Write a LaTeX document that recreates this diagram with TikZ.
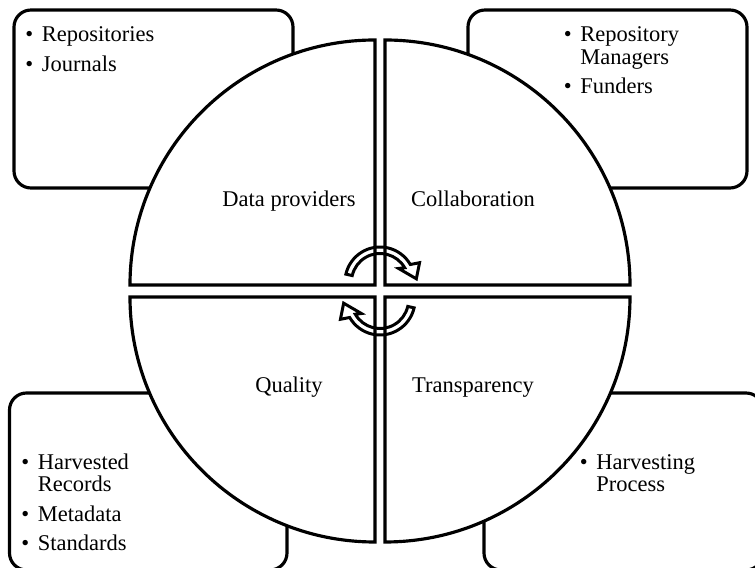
\documentclass[tikz,border=0pt]{standalone}
\usepackage{fontspec}
\setmainfont{Liberation Serif}
\usetikzlibrary{
    positioning,   % Relative positioning
    calc           % Coordinate calculations
}
\tikzset{sector/.style={
    draw, fill=white, line width=1.8pt, line join=miter
}}
\tikzset{sidebox/.style={
    draw, fill=white, line width=1.8pt, rounded corners=0.34cm
}}
\tikzset{quadlabel/.style={
    font=\fontsize{12.8}{12.8}\selectfont, inner sep=0pt, anchor=base
}}
\tikzset{bulletlist/.style={
    font=\fontsize{12.8}{12.8}\selectfont, inner sep=0pt, anchor=base west
}}
\tikzset{circarrow/.pic={
    \draw[line width=1.7pt, line join=miter]
        (167:35) arc[start angle=167, end angle=30, radius=35]
        -- (26:44) -- (5:36.5) -- (36:23) -- (30:28.5)
        arc[start angle=30, end angle=167, radius=28.5] -- cycle;
}}
\newcommand{\itemgap}{\\[3.8pt]}

\begin{document}
\begin{tikzpicture}[x=0.02cm, y=0.02cm]
    \useasboundingbox (0,0) rectangle (755,568);
    \clip (0,0) rectangle (755,568);
    % corner boxes
    \draw[sidebox] (14,380) rectangle (293,558);
    \draw[sidebox] (468,380) rectangle (747,558);
    \draw[sidebox] (9.5,-2) rectangle (287,175);
    \draw[sidebox] (484,-2) rectangle (763,175);
    % the four quarters
    \draw[sector] (375,283) -- (130,283) arc[start angle=180, end angle=90, radius=245] -- cycle;
    \draw[sector] (385,283) -- (385,528) arc[start angle=90, end angle=0, radius=245] -- cycle;
    \draw[sector] (375,271) -- (375,26) arc[start angle=270, end angle=180, radius=245] -- cycle;
    \draw[sector] (385,271) -- (630,271) arc[start angle=0, end angle=-90, radius=245] -- cycle;
    % quarter labels
    \node[quadlabel] (dataprov) at (289,361) {Data providers};
    \node[quadlabel] (collab) at (473,361) {Collaboration};
    \node[quadlabel] (quality) at (289,175) {Quality};
    \node[quadlabel] (transp) at (473,175) {Transparency};
    % bullet lists
    \node[bulletlist] (provlist) at (25,526) {\begin{tabular}[t]{@{}l@{\hspace{4.9pt}}l@{}}
        \textbullet & Repositories\itemgap
        \textbullet & Journals
    \end{tabular}};
    \node[bulletlist] (collablist) at (563.5,526) {\begin{tabular}[t]{@{}l@{\hspace{4.9pt}}l@{}}
        \textbullet & Repository\\
                    & Managers\itemgap
        \textbullet & Funders
    \end{tabular}};
    \node[bulletlist] (qualitylist) at (21,98.5) {\begin{tabular}[t]{@{}l@{\hspace{4.9pt}}l@{}}
        \textbullet & Harvested\\
                    & Records\itemgap
        \textbullet & Metadata\itemgap
        \textbullet & Standards
    \end{tabular}};
    \node[bulletlist] (transplist) at (579.5,98.5) {\begin{tabular}[t]{@{}l@{\hspace{4.9pt}}l@{}}
        \textbullet & Harvesting\\
                    & Process
    \end{tabular}};
    % cycle arrows in the middle
    \pic (toparrow) at (380,286) {circarrow};
    \pic[rotate=180] (botarrow) at (380,268) {circarrow};
\end{tikzpicture}
\end{document}
